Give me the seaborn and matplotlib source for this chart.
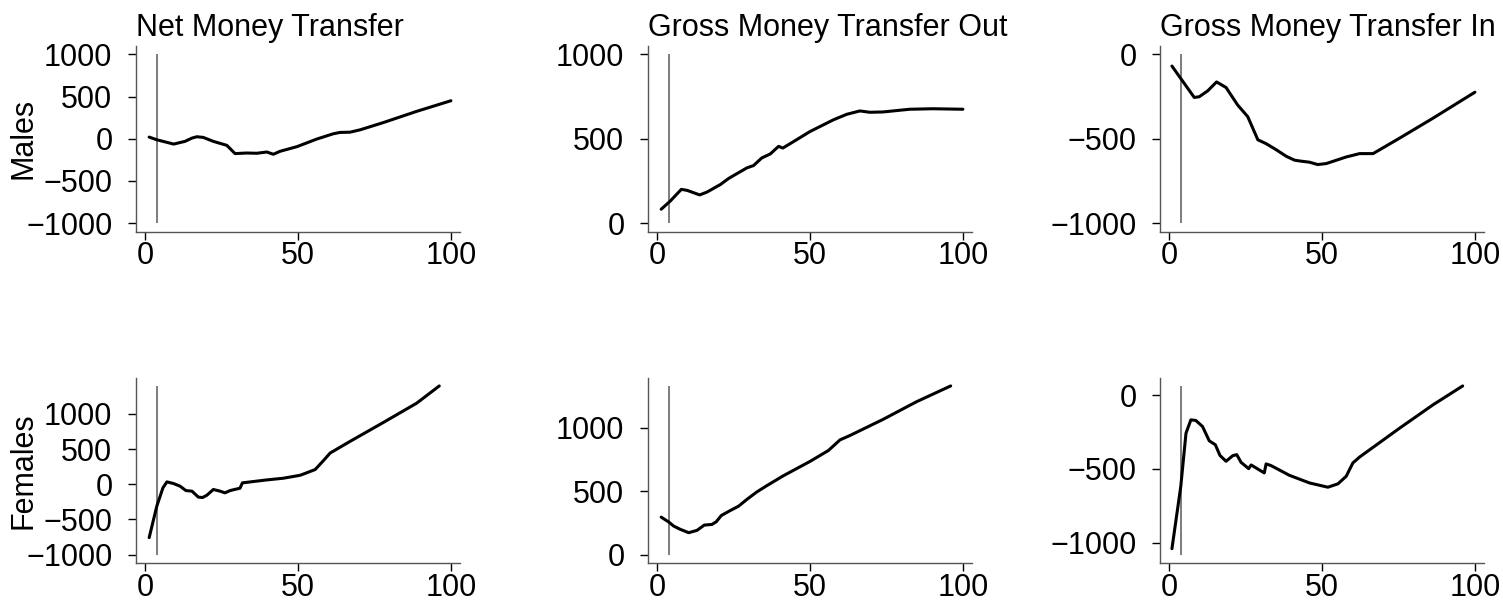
import numpy as np
import pandas as pd
import matplotlib
matplotlib.use("Agg")
import matplotlib.pyplot as plt
import seaborn as sns

# ages and values
male_net_age = [1.3, 3.8, 9.3, 13, 15.3, 16.9, 19, 22.3, 26.7, 29.4, 33.2, 36.5, 39.8, 41.9, 44.1,
                49.6, 56.1, 61.5, 63.7, 67, 70.3, 77.9, 88.8, 100]
male_net = [20, -12, -63, -31, 8, 24, 16, -31, -78, -176, -169, -172, -157, -184, -149,
            -94, -4, 59, 75, 78, 106, 192, 325, 451]

male_out_age = [1.3, 4.3, 7.9, 9.8, 13.9, 16.3, 20.7, 23.4, 29.3, 31.5, 34.2, 37, 39.7, 41.1, 43.5,
                50, 57.6, 62, 66.3, 69.6, 73.9, 82.6, 90.2, 100]
male_out = [82, 131, 200, 194, 167, 184, 229, 265, 327, 341, 386, 410, 455, 445, 471,
            543, 612, 645, 665, 657, 659, 675, 678, 675]

male_in_age = [0.9, 3.8, 8.2, 9.8, 12.6, 15.5, 18.6, 22.4, 25.7, 29, 31.7, 35, 38.3, 41, 43.2,
               45.9, 48.6, 51.4, 57.9, 62.3, 66.7, 75.4, 86.3, 100]
male_in = [-69, -143, -255, -251, -216, -163, -196, -300, -369, -506, -529, -565, -604, -627, -633,
           -639, -653, -647, -608, -588, -588, -496, -378, -224]

female_net_age = [1.3, 3.8, 5.8, 7.1, 9.3, 11.4, 13.3, 15.3, 17.4, 18.8, 20.2, 22.3, 24.5, 26.1,
                  27.8, 31, 31.8, 35.4, 39.8, 45.2, 50.7, 55.6, 58.3, 60.5, 67, 77.9, 88.8, 96.2]
female_net = [-759, -311, -52, 33, 9, -28, -90, -99, -184, -189, -156, -75, -99, -123,
              -90, -57, 19, 38, 61, 85, 127, 208, 335, 443, 608, 877, 1151, 1396]

female_out_age = [1.3, 3.8, 5.4, 7.6, 10.3, 13, 15.4, 17.9, 19.3, 21, 23.9, 26.6, 29.3, 32.6,
                  35.9, 41.3, 50, 56, 59.8, 63, 73.9, 84.8, 96]
female_out = [296, 257, 225, 199, 173, 191, 233, 238, 259, 309, 348, 382, 435, 495,
              545, 623, 736, 822, 906, 940, 1068, 1207, 1332]

female_in_age = [0.9, 3.8, 5.5, 7.1, 8.7, 10.9, 13.1, 15.1, 16.6, 18.6, 20.8, 22.1, 23.5, 26,
                 26.8, 31.1, 31.7, 33.3, 39.3, 45.9, 51.9, 55.2, 57.9, 60.1, 62.3, 75.4, 86.3, 96]
female_in = [-1041, -617, -257, -167, -171, -212, -309, -336, -408, -448, -410, -403, -455, -498,
             -473, -527, -466, -477, -543, -595, -624, -601, -550, -459, -419, -223, -65, 63]

titles = ["Net Money Transfer", "Gross Money Transfer Out", "Gross Money Transfer In"]
row_labels = ["Males", "Females"]
vline_age = 4
vline_ranges = [[(-1000, 1000), (0, 1000), (-1000, 0)],
                [(-1000, 1396), (0, 1332), (-1081, 63)]]
yticks = [[-1000, -500, 0, 500, 1000], [0, 500, 1000], [-1000, -500, 0]]
xticks = [0, 50, 100]

series = [[(male_net_age, male_net), (male_out_age, male_out), (male_in_age, male_in)],
          [(female_net_age, female_net), (female_out_age, female_out), (female_in_age, female_in)]]

sns.set_theme(style="ticks")
plt.rcParams["font.family"] = ["Liberation Sans", "DejaVu Sans"]
plt.rcParams["axes.edgecolor"] = "#555555"
plt.rcParams["text.color"] = "black"
plt.rcParams["axes.labelcolor"] = "black"
plt.rcParams["xtick.labelcolor"] = "black"
plt.rcParams["ytick.labelcolor"] = "black"

fig, axes = plt.subplots(2, 3, figsize=(15.03, 6.03), dpi=100, sharex=True)
fig.subplots_adjust(left=0.0905, right=0.9874, top=0.9237, bottom=0.0663,
                    wspace=0.58, hspace=0.787)

for r in range(2):
    for c in range(3):
        ax = axes[r, c]
        ages, vals = series[r][c]
        df = pd.DataFrame({"age": ages, "value": vals})
        lo, hi = vline_ranges[r][c]
        ax.vlines(vline_age, lo, hi, color="#666666", linewidth=1.2)
        sns.lineplot(data=df, x="age", y="value", ax=ax, color="black", linewidth=2.2)
        ax.set_xlim(-3, 103)
        ax.set_xticks(xticks)
        ax.set_yticks(yticks[c])
        ax.set_xlabel("")
        ax.set_ylabel("")
        ax.tick_params(axis="both", labelsize=22, length=6, width=1, color="black")
        ax.tick_params(axis="y", pad=11)
        ax.tick_params(axis="x", pad=1, labelbottom=True)
        for s in ["left", "bottom"]:
            ax.spines[s].set_linewidth(1)
        sns.despine(ax=ax)
        if r == 0:
            ax.set_title(titles[c], loc="left", fontsize=22, pad=7)
        if c == 0:
            ax.set_ylabel(row_labels[r], fontsize=22)
            ax.yaxis.set_label_coords(-0.30, 0.5)

fig.savefig("out.png", dpi=100)
